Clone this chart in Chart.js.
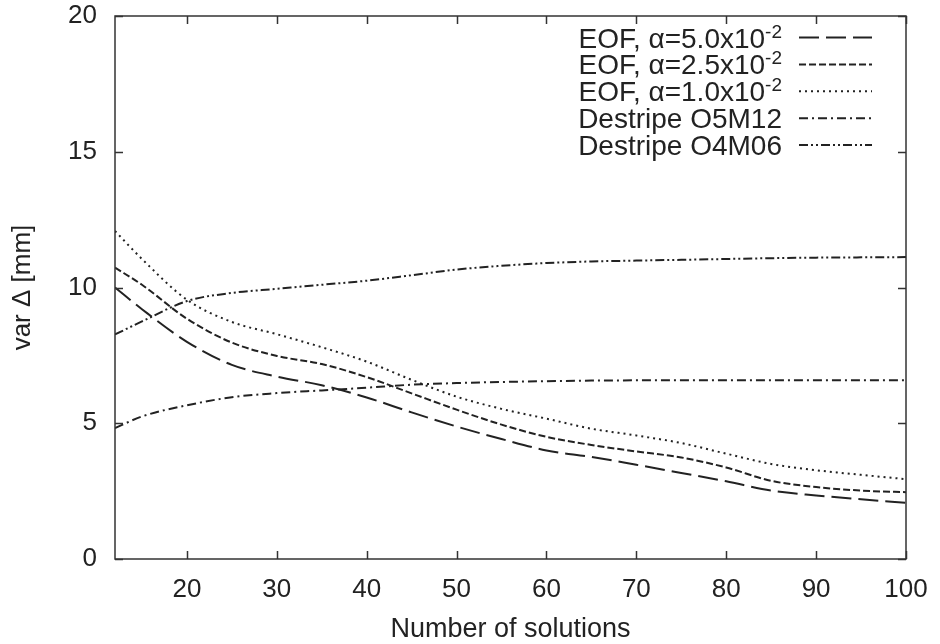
<!DOCTYPE html>
<html>
<head>
<meta charset="utf-8">
<script src="https://cdn.jsdelivr.net/npm/chart.js@4"></script>
<style>
  html, body { margin: 0; padding: 0; background: #fff; }
  canvas { display: block; }
</style>
</head>
<body>
<canvas id="chart" width="940" height="644"></canvas>
<script>
/* ===== DATA ===== */
const solutions = [12, 15, 20, 25, 30, 35, 40, 45, 50, 55, 60, 65, 70, 75, 80, 85, 90, 95, 100];

const eof50 = [10.0, 9.2, 8.0, 7.15, 6.72, 6.4, 5.95, 5.4, 4.88, 4.42, 4.0, 3.76, 3.47, 3.17, 2.86, 2.52, 2.34, 2.2, 2.07];
const eof25 = [10.73, 10.1, 8.85, 7.97, 7.48, 7.18, 6.7, 6.1, 5.5, 4.95, 4.5, 4.2, 3.96, 3.74, 3.37, 2.88, 2.65, 2.52, 2.46];
const eof10 = [12.08, 11.05, 9.55, 8.73, 8.28, 7.8, 7.27, 6.6, 5.98, 5.53, 5.17, 4.8, 4.55, 4.27, 3.88, 3.5, 3.27, 3.1, 2.94];
const o5m12 = [4.82, 5.25, 5.66, 5.96, 6.11, 6.21, 6.31, 6.42, 6.48, 6.52, 6.55, 6.57, 6.58, 6.58, 6.58, 6.58, 6.58, 6.58, 6.58];
const o4m06 = [8.27, 8.75, 9.5, 9.8, 9.95, 10.1, 10.25, 10.45, 10.66, 10.8, 10.9, 10.96, 10.99, 11.02, 11.05, 11.08, 11.1, 11.11, 11.12];

const xTicks = [20, 30, 40, 50, 60, 70, 80, 90, 100];
const yTicks = [0, 5, 10, 15, 20];

// legend rows: main text, superscript (may be empty)
const legendLabels = [
  ['EOF, \u03b1=5.0x10', '-2'],
  ['EOF, \u03b1=2.5x10', '-2'],
  ['EOF, \u03b1=1.0x10', '-2'],
  ['Destripe O5M12', ''],
  ['Destripe O4M06', '']
];

const dashes = [
  [20, 7],
  [7, 3],
  [2, 4],
  [9, 4, 2, 4],
  [9, 3, 2, 3, 2, 3]
];

const INK = '#222';
const FONT = "'Liberation Sans', Arial, Helvetica, sans-serif";

const series = [eof50, eof25, eof10, o5m12, o4m06];

/* ===== PLUGIN: gnuplot-style frame, inward ticks, legend ===== */
const gnuplotFrame = {
  id: 'gnuplotFrame',
  afterDatasetsDraw(chart) {
    const { ctx, chartArea: a, scales: { x, y } } = chart;
    const tl = 8;
    ctx.save();
    ctx.strokeStyle = '#333';
    ctx.lineWidth = 1.5;
    ctx.setLineDash([]);
    ctx.strokeRect(a.left, a.top, a.right - a.left, a.bottom - a.top);

    ctx.beginPath();
    xTicks.forEach(v => {
      const px = Math.round(x.getPixelForValue(v)) + 0.5;
      ctx.moveTo(px, a.bottom); ctx.lineTo(px, a.bottom - tl);
      ctx.moveTo(px, a.top); ctx.lineTo(px, a.top + tl);
    });
    yTicks.forEach(v => {
      const py = Math.round(y.getPixelForValue(v)) + 0.5;
      ctx.moveTo(a.left, py); ctx.lineTo(a.left + tl, py);
      ctx.moveTo(a.right, py); ctx.lineTo(a.right - tl, py);
    });
    ctx.stroke();

    // legend
    const textRight = 782;
    const sx0 = 799, sx1 = 872;
    const rowTop = 37.5, rowStep = 26.9;
    legendLabels.forEach((lab, i) => {
      const ry = rowTop + i * rowStep;
      ctx.fillStyle = INK;
      ctx.textBaseline = 'alphabetic';
      ctx.textAlign = 'right';
      ctx.font = '19px ' + FONT;
      let supW = 0;
      if (lab[1]) {
        supW = ctx.measureText(lab[1]).width;
        ctx.fillText(lab[1], textRight, ry);
      }
      ctx.font = '28px ' + FONT;
      ctx.fillText(lab[0], textRight - supW, ry + 10);

      ctx.strokeStyle = INK;
      ctx.lineWidth = 2;
      ctx.setLineDash(dashes[i]);
      ctx.beginPath();
      ctx.moveTo(sx0, ry);
      ctx.lineTo(sx1, ry);
      ctx.stroke();
    });
    ctx.restore();
  }
};

/* ===== CHART ===== */
const datasets = series.map((vals, i) => ({
  label: legendLabels[i][0] + legendLabels[i][1],
  data: solutions.map((s, j) => ({ x: s, y: vals[j] })),
  borderColor: INK,
  borderWidth: 2,
  borderDash: dashes[i],
  fill: false,
  pointRadius: 0,
  cubicInterpolationMode: 'monotone'
}));

new Chart(document.getElementById('chart'), {
  type: 'line',
  data: { datasets },
  options: {
    responsive: false,
    animation: false,
    layout: { padding: 0 },
    plugins: {
      legend: { display: false },
      tooltip: { enabled: false }
    },
    scales: {
      x: {
        type: 'linear',
        min: 12,
        max: 100,
        afterBuildTicks: s => { s.ticks = xTicks.map(v => ({ value: v })); },
        afterFit: s => {
          s.height = 85;
          s.paddingLeft = 0;
          s.paddingRight = 34;
        },
        grid: { display: false, drawTicks: false },
        border: { display: false },
        ticks: {
          autoSkip: false,
          maxRotation: 0,
          padding: 15,
          color: INK,
          font: { family: FONT, size: 26 }
        },
        title: {
          display: true,
          text: 'Number of solutions',
          color: INK,
          font: { family: FONT, size: 27, lineHeight: 1.05 },
          padding: { top: 0, bottom: 0 }
        }
      },
      y: {
        min: 0,
        max: 20,
        afterBuildTicks: s => { s.ticks = yTicks.map(v => ({ value: v })); },
        afterFit: s => {
          s.width = 115;
          s.paddingTop = 16;
          s.paddingBottom = 0;
        },
        grid: { display: false, drawTicks: false },
        border: { display: false },
        ticks: {
          padding: 18,
          color: INK,
          font: { family: FONT, size: 26 }
        },
        title: {
          display: true,
          text: 'var \u0394 [mm]',
          color: INK,
          font: { family: FONT, size: 26 },
          padding: { top: 7, bottom: 0 }
        }
      }
    }
  },
  plugins: [gnuplotFrame]
});
</script>
</body>
</html>
